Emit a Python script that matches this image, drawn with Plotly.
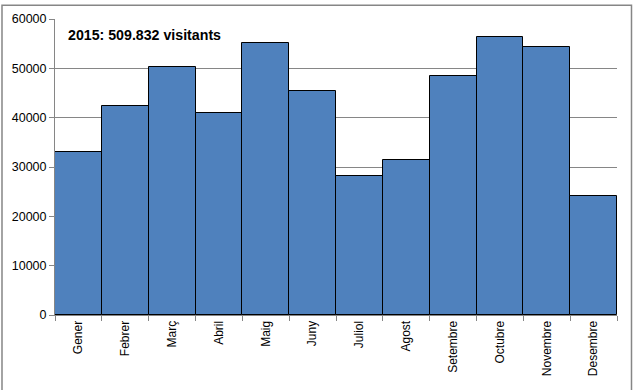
import plotly.graph_objects as go

months = ["Gener", "Febrer", "Març", "Abril", "Maig", "Juny", "Juliol",
          "Agost", "Setembre", "Octubre", "Novembre", "Desembre"]
visitors = [33000, 42300, 50300, 41000, 55200, 45500, 28100,
            31500, 48500, 56400, 54400, 24100]
title_text = "2015: 509.832 visitants"
y_ticks = [0, 10000, 20000, 30000, 40000, 50000, 60000]

W, H = 633, 390
L, R, T, B = 55, 16, 16, 75
pw, ph = W - L - R, H - T - B

def px(x):
    return (x - L) / pw

def py(y):
    return (H - B - y) / ph

fig = go.Figure(go.Bar(
    x=months, y=visitors,
    marker=dict(color="#4F81BD", line=dict(color="#000000", width=1)),
))

border_path = "M {:.5f} {:.5f} L {:.5f} {:.5f} L {:.5f} {:.5f} L {:.5f} {:.5f}".format(
    px(2), py(392), px(2), py(2), px(631.5), py(2), px(631.5), py(392))

fig.update_layout(
    width=W, height=H,
    margin=dict(l=L, r=R, t=T, b=B),
    paper_bgcolor="white", plot_bgcolor="white",
    bargap=0, showlegend=False,
    font=dict(family="Liberation Sans, Arial, sans-serif", size=12, color="#000000"),
    xaxis=dict(
        type="category", tickangle=-90, tickson="boundaries",
        ticks="outside", ticklen=5, tickcolor="#868686",
        showline=True, linecolor="#868686", linewidth=1,
        showgrid=False, tickfont=dict(size=12),
    ),
    yaxis=dict(
        range=[0, 60000], tickvals=y_ticks, ticktext=[str(v) for v in y_ticks],
        ticks="outside", ticklen=5, tickcolor="#868686",
        showline=True, linecolor="#868686", linewidth=1,
        showgrid=True, gridcolor="#868686", gridwidth=1,
        zeroline=False, tickfont=dict(size=12.5),
    ),
    annotations=[dict(
        text="<b>" + title_text + "</b>", xref="paper", yref="paper",
        x=px(66), y=py(32), xanchor="left", yanchor="middle",
        showarrow=False, font=dict(size=14.2, color="#000000"),
    )],
    shapes=[dict(
        type="path", xref="paper", yref="paper", path=border_path,
        line=dict(color="#868686", width=1.5), layer="below",
    )],
)

fig.write_html("out.html", config={"displayModeBar": False},
               post_script="document.body.style.margin='0';document.body.style.padding='0';")
